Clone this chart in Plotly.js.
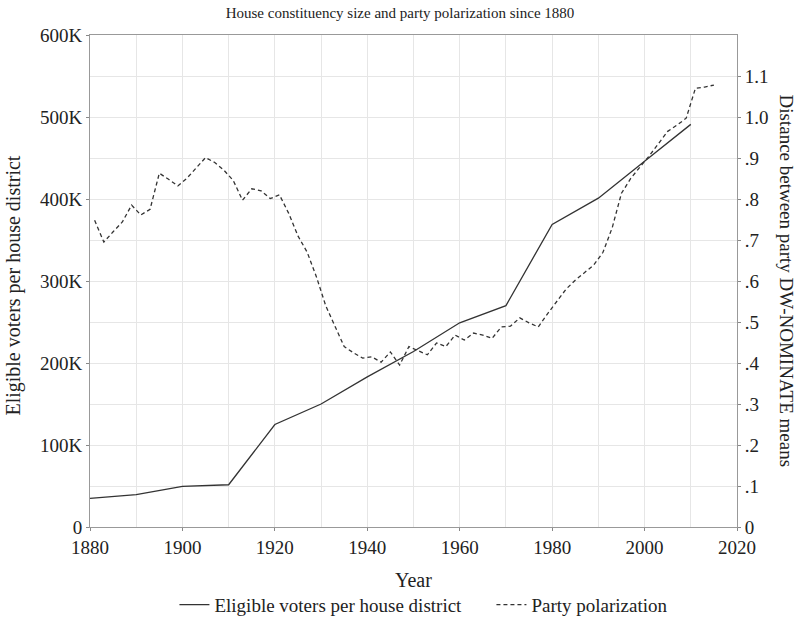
<!DOCTYPE html>
<html>
<head>
<meta charset="utf-8">
<script src="https://cdn.plot.ly/plotly-3.0.1.min.js"></script>
<style>html,body{margin:0;padding:0;background:#fff;}#chart{width:800px;height:630px;}</style>
</head>
<body>
<div id="chart"></div>
<script>
// Eligible voters per House district (left axis)
const voterYears = [1880, 1890, 1900, 1910, 1920, 1930, 1940, 1950, 1960, 1970, 1980, 1990, 2000, 2010];
const voterValues = [35000, 39500, 49500, 51500, 125000, 150000, 183000, 214000, 249000, 270000, 369000, 401000, 446000, 491000];

// Party polarization, distance between party DW-NOMINATE means (right axis)
const polYears = [1881, 1883, 1885, 1887, 1889, 1891, 1893, 1895, 1897, 1899,
  1901, 1903, 1905, 1907, 1909, 1911, 1913, 1915, 1917, 1919,
  1921, 1923, 1925, 1927, 1929, 1931, 1933, 1935, 1937, 1939,
  1941, 1943, 1945, 1947, 1949, 1951, 1953, 1955, 1957, 1959,
  1961, 1963, 1965, 1967, 1969, 1971, 1973, 1975, 1977, 1979,
  1981, 1983, 1985, 1987, 1989, 1991, 1993, 1995, 1997, 1999,
  2001, 2003, 2005, 2007, 2009, 2011, 2013, 2015];
const polValues = [0.748, 0.695, 0.72, 0.744, 0.785, 0.761, 0.775, 0.863, 0.848, 0.832,
  0.851, 0.875, 0.901, 0.889, 0.87, 0.845, 0.797, 0.825, 0.82, 0.801,
  0.81, 0.765, 0.71, 0.67, 0.61, 0.54, 0.488, 0.44, 0.425, 0.412,
  0.415, 0.402, 0.427, 0.395, 0.44, 0.43, 0.42, 0.449, 0.44, 0.468,
  0.456, 0.473, 0.468, 0.46, 0.488, 0.49, 0.51, 0.498, 0.488, 0.52,
  0.55, 0.58, 0.602, 0.62, 0.639, 0.67, 0.73, 0.814, 0.85, 0.878,
  0.905, 0.935, 0.965, 0.98, 0.997, 1.07, 1.073, 1.078];

const leftTickVals = [0, 100000, 200000, 300000, 400000, 500000, 600000];
const leftTickText = ['0', '100K', '200K', '300K', '400K', '500K', '600K'];
const rightTickVals = [0, 0.1, 0.2, 0.3, 0.4, 0.5, 0.6, 0.7, 0.8, 0.9, 1.0, 1.1];
const rightTickText = ['0', '.1', '.2', '.3', '.4', '.5', '.6', '.7', '.8', '.9', '1.0', '1.1'];

const FONT = 'Liberation Serif, Times New Roman, serif';
const TXT = '#222';
const TICK = 19;
const LAB = 19;

const traces = [
  {
    x: voterYears, y: voterValues, type: 'scatter', mode: 'lines',
    name: 'Eligible voters per house district',
    line: {color: '#333', width: 1.3},
    yaxis: 'y'
  },
  {
    x: polYears, y: polValues, type: 'scatter', mode: 'lines',
    name: 'Party polarization',
    line: {color: '#333', width: 1.3, dash: '4px,3px'},
    yaxis: 'y2'
  }
];

const layout = {
  width: 800, height: 630,
  margin: {l: 90, r: 63, t: 35, b: 103, autoexpand: false},
  paper_bgcolor: '#fff', plot_bgcolor: '#fff',
  font: {family: FONT, color: TXT, size: TICK},
  title: {text: 'House constituency size and party polarization since 1880',
    font: {family: FONT, size: 15, color: TXT}, x: 0.5, xanchor: 'center', y: 0.98, yanchor: 'middle'},
  showlegend: true,
  legend: {orientation: 'h', x: 0.1305, xanchor: 'left', y: -0.158, yanchor: 'middle',
    entrywidth: 272, entrywidthmode: 'pixels',
    font: {family: FONT, size: LAB, color: TXT}, itemwidth: 30, tracegroupgap: 0, bgcolor: 'rgba(0,0,0,0)'},
  xaxis: {
    range: [1880, 2020], tickvals: [1880, 1900, 1920, 1940, 1960, 1980, 2000, 2020],
    ticks: 'outside', ticklen: 3, tickcolor: '#888',
    showgrid: true, gridcolor: '#e6e6e6', gridwidth: 1,
    minor: {dtick: 10, tick0: 1880, showgrid: true, gridcolor: '#e6e6e6', ticks: ''},
    showline: true, linecolor: '#999', linewidth: 1, mirror: true,
    zeroline: false, tickfont: {family: FONT, size: TICK, color: TXT}
  },
  yaxis: {
    range: [0, 600000], tickvals: leftTickVals, ticktext: leftTickText,
    ticks: 'outside', ticklen: 3, tickcolor: '#888',
    showgrid: true, gridcolor: '#e6e6e6',
    minor: {dtick: 50000, tick0: 0, showgrid: true, gridcolor: '#e6e6e6', ticks: ''},
    showline: true, linecolor: '#999', linewidth: 1, mirror: false,
    zeroline: false, tickfont: {family: FONT, size: TICK, color: TXT}
  },
  yaxis2: {
    range: [0, 1.2], overlaying: 'y', side: 'right',
    tickvals: rightTickVals, ticktext: rightTickText,
    ticks: 'outside', ticklen: 3, tickcolor: '#888',
    showgrid: false, showline: true, linecolor: '#999', linewidth: 1,
    zeroline: false, tickfont: {family: FONT, size: TICK, color: TXT}
  },
  annotations: [
    {text: 'Eligible voters per house district', xref: 'paper', yref: 'paper',
      x: -0.118, y: 0.49, textangle: -90, showarrow: false,
      xanchor: 'center', yanchor: 'middle', font: {family: FONT, size: 20, color: TXT}},
    {text: 'Distance between party DW-NOMINATE means', xref: 'paper', yref: 'paper',
      x: 1.078, y: 0.5, textangle: 90, showarrow: false,
      xanchor: 'center', yanchor: 'middle', font: {family: FONT, size: 19, color: TXT}},
    {text: 'Year', xref: 'paper', yref: 'paper', x: 0.5, y: -0.108,
      showarrow: false, xanchor: 'center', yanchor: 'middle',
      font: {family: FONT, size: 20, color: TXT}}
  ]
};

Plotly.newPlot('chart', traces, layout, {displayModeBar: false, staticPlot: true});
</script>
</body>
</html>
